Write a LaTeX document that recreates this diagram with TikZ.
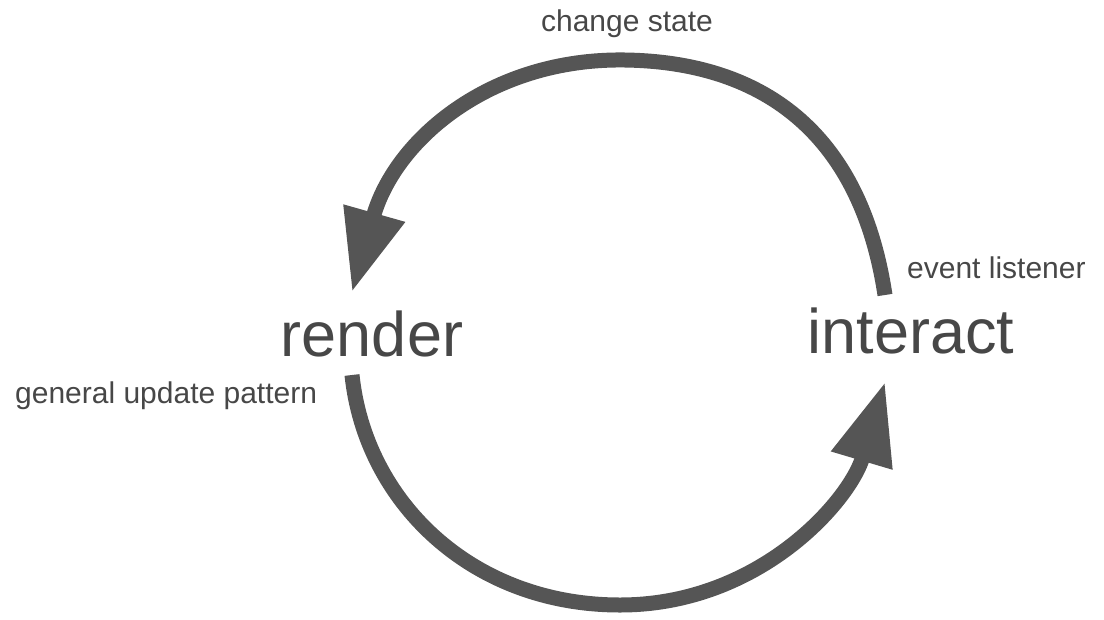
\documentclass[tikz,border=0pt]{standalone}
\usepackage{fontspec}
\setmainfont{Liberation Sans}
\usetikzlibrary{arrows.meta}
\definecolor{loopgray}{HTML}{555555}
\definecolor{labelgray}{HTML}{474747}
\begin{document}
\begin{tikzpicture}[x=1pt,y=-1pt,
  phase/.style={font=\fontsize{63}{63}\selectfont, text=labelgray, inner sep=0pt, anchor=base},
  note/.style={font=\fontsize{30}{30}\selectfont, text=labelgray, inner sep=0pt},
  loop/.style={draw=loopgray, line width=15pt, line cap=butt,
    -{Triangle[length=82pt,width=60pt]}, fill=none}]
\useasboundingbox (0,0) rectangle (1104,619);

% main states
\node[phase] (render) at (372,356) {render};
\node[phase] (interact) at (911,353) {interact};

% labels on the loop
\node[note, anchor=base] (chg) at (627,31) {change state};
\node[note, anchor=base west] (evt) at (907,278) {event listener};
\node[note, anchor=base west] (gup) at (15,403) {general update pattern};

% ends of the two arcs
\coordinate (interactOut) at (885,295);
\coordinate (renderIn) at (352,292);
\coordinate (renderOut) at (352,375);
\coordinate (interactIn) at (885,382);

% interact -> render (over the top)
\draw[loop] (interactOut) .. controls (860,130) and (760,62) .. (625,60)
  .. controls (490,58) and (395,140) .. (renderIn);

% render -> interact (along the bottom)
\draw[loop] (renderOut) .. controls (365,500) and (470,605) .. (620,605)
  .. controls (760,605) and (850,500) .. (interactIn);
\end{tikzpicture}
\end{document}
